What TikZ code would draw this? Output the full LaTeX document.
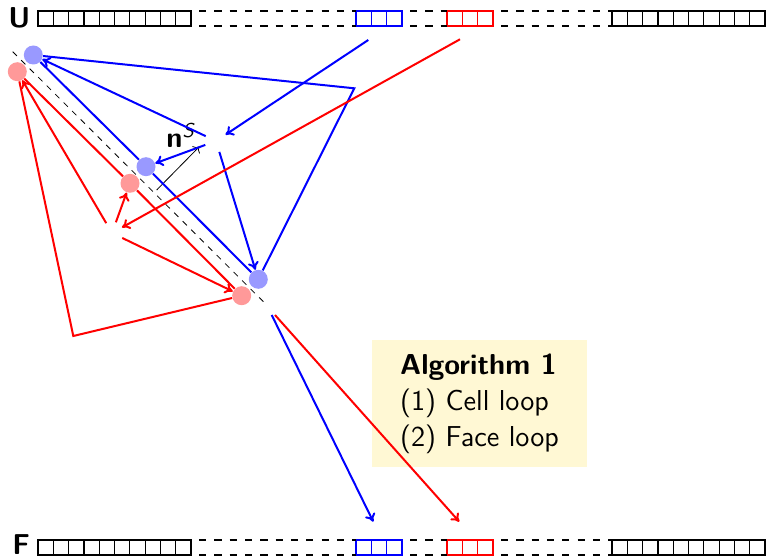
\documentclass[tikz,border=0pt]{standalone}
\usepackage{tikz}
\usetikzlibrary{arrows.meta}

\definecolor{fluxb}{HTML}{0000FF}
\definecolor{fluxr}{HTML}{FF0000}
\definecolor{dotb}{HTML}{9999FF}
\definecolor{dotr}{HTML}{FF9999}
\definecolor{algbg}{HTML}{FFF8D4}

\begin{document}
\begin{tikzpicture}[x=0.5pt,y=-0.5pt,font=\sffamily\Large,
  cell/.style={draw=black,semithick},
  gapline/.style={black,semithick,dash pattern=on 3.6pt off 4.05pt,dash phase=3.6pt},
  facept/.style={circle,inner sep=0pt,minimum size=9.5pt},
  ctr/.style={circle,inner sep=0pt,minimum size=11pt},
  bflux/.style={fluxb,line width=1pt,-{To[length=4pt,width=5.5pt]}},
  rflux/.style={fluxr,line width=1pt,-{To[length=4pt,width=5.5pt]}},
  bedge/.style={fluxb,line width=1pt},
  redge/.style={fluxr,line width=1pt}]
\useasboundingbox (0,0) rectangle (768,556);

% U and F arrays
\foreach \row in {11,540}{
  \foreach \k in {0,...,9}{
    \draw[cell] (38+15.3*\k,\row) rectangle ++(15.3,15);
    \draw[cell] (612+15.3*\k,\row) rectangle ++(15.3,15);
  }
  \foreach \k in {0,1,2}{
    \draw[cell,draw=fluxb] (356+15.3*\k,\row) rectangle ++(15.3,15);
    \draw[cell,draw=fluxr] (447+15.3*\k,\row) rectangle ++(15.3,15);
  }
  \foreach \a/\b in {191/356,401.9/447,492.9/612}{
    \draw[gapline] (\a,\row) -- (\b,\row);
    \draw[gapline] (\a,\row+15) -- (\b,\row+15);
  }
}
\node[anchor=base west,inner sep=0pt,font=\sffamily\Large\bfseries] (ulab) at (8,27.5) {U};
\node[anchor=base west,inner sep=0pt,font=\sffamily\Large\bfseries] (flab) at (12,554.5) {F};

\node[fill=algbg,align=left,minimum width=107.5pt,minimum height=63.5pt] (algo) at (479.5,403.5)
  {\textbf{Algorithm 1}\\(1) Cell loop\\(2) Face loop};

% shared face
\coordinate (fa) at (12.7,51.7);
\coordinate (fz) at (265.7,304);
\draw[thin,dashed] (fa) -- (fz);
\coordinate (nbase) at (156.7,190);
\coordinate (ntip) at (199.3,146.7);
\draw[thin,->] (nbase) -- (ntip);
\node[anchor=base west,inner sep=0pt] (nlab) at (166,147.5) {\textbf{n}\textsuperscript{\textit{S}}};

% face points
\node[facept,fill=dotb] (bd1) at (33.3,55) {};
\node[facept,fill=dotb] (bd2) at (146,166.7) {};
\node[facept,fill=dotb] (bd3) at (258.3,279.3) {};
\node[facept,fill=dotr] (rd1) at (17.3,71.7) {};
\node[facept,fill=dotr] (rd2) at (130,183.3) {};
\node[facept,fill=dotr] (rd3) at (241.7,295.7) {};

% cell centres, corners, ends
\node[ctr] (bc) at (216,141) {};
\node[ctr] (rc) at (112,233) {};
\coordinate (bcor) at (354.3,88.3);
\coordinate (rcor) at (73.3,336);
\coordinate (ub) at (368.3,40);
\coordinate (ur) at (460,39.3);
\coordinate (outb) at (271.7,315);
\coordinate (outr) at (275,315);
\coordinate (fb) at (373.3,521.7);
\coordinate (fr) at (459.3,521.7);

% blue cell
\draw[bedge] (bd1) -- (bcor) -- (bd3);
\draw[bedge] (bd1) -- (bd2);
\draw[bedge] (bd2) -- (bd3);
\draw[bflux] (ub) -- (bc);
\draw[bflux] (bc) -- (bd1);
\draw[bflux] (bc) -- (bd2);
\draw[bflux] (bc) -- (bd3);
\draw[bflux] (outb) -- (fb);

% red cell
\draw[redge] (rd3) -- (rcor) -- (rd1);
\draw[redge] (rd1) -- (rd2);
\draw[redge] (rd2) -- (rd3);
\draw[rflux] (ur) -- (rc);
\draw[rflux] (rc) -- (rd1);
\draw[rflux] (rc) -- (rd2);
\draw[rflux] (rc) -- (rd3);
\draw[rflux] (outr) -- (fr);
\end{tikzpicture}
\end{document}
